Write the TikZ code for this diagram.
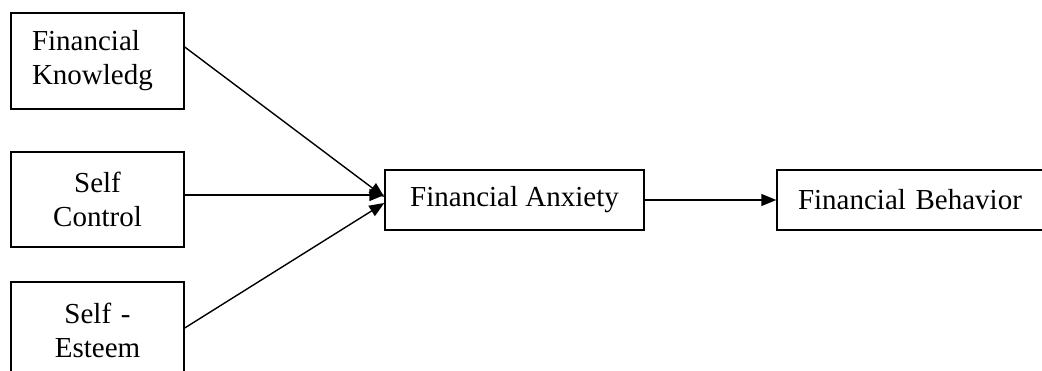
\documentclass[tikz,border=0pt]{standalone}
\usepackage{fontspec}
\setmainfont{Liberation Serif}
\usetikzlibrary{arrows.meta,calc}
\begin{document}
\begin{tikzpicture}[x=1pt,y=-1pt,
  box/.style={draw=black,line width=1.4pt,inner sep=0pt,font=\fontsize{29}{34}\selectfont},
  conn/.style={line width=1.4pt,-{Triangle[length=15pt,width=12pt]}}]
\useasboundingbox (0,0) rectangle (1042,371);
\clip (0,0) rectangle (1042,371);
\node[box,minimum width=173pt,minimum height=96pt,text width=131pt,align=left] (fk) at (97.5,61) {Financial\\Knowledg};
\node[box,minimum width=173pt,minimum height=95pt,text width=131pt,align=center] (sc) at (97.5,199.5) {Self\\Control};
\node[box,minimum width=173pt,minimum height=96pt,text width=131pt,align=center] (se) at (97.5,330) {Self -\\Esteem};
\node[box,minimum width=259pt,minimum height=60pt] (fa) at (514.5,200) {Financial Anxiety};
\node[box,minimum width=273pt,minimum height=60pt,text width=231pt,align=left] (fb) at (913.5,200) {Financial Behavior};
\draw[conn] ($(fk.east)+(0,-14)$) -- ($(fa.west)+(0,-3)$);
\draw[conn] ($(sc.east)+(0,-4.5)$) -- ($(fa.west)+(0,-5)$);
\draw[conn] ($(se.east)+(0,-2)$) -- ($(fa.west)+(0,3)$);
\draw[conn] (fa.east) -- (fb.west);
\end{tikzpicture}
\end{document}
